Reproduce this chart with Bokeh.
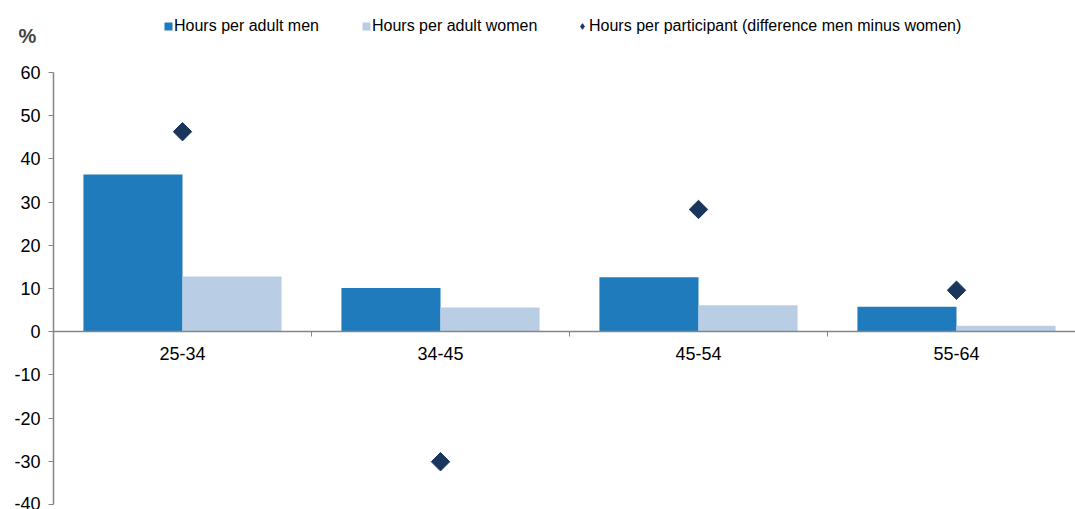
import math
from bokeh.plotting import figure
from bokeh.models import Range1d, FixedTicker, Legend, LegendItem, Label, ColumnDataSource
from bokeh.transform import dodge
from bokeh.embed import file_html
from bokeh.resources import INLINE

categories = ["25-34", "34-45", "45-54", "55-64"]
men = [36.4, 10.1, 12.6, 5.8]
women = [12.8, 5.6, 6.1, 1.4]
participant_diff = [46.3, -30.1, 28.3, 9.6]
y_ticks = [-40, -30, -20, -10, 0, 10, 20, 30, 40, 50, 60]

FONT = "Liberation Sans"
MEN_C = "#1F7BBB"
WOMEN_C = "#B9CDE5"
DIA_C = "#1B365D"
AX_C = "#868686"

n = len(categories)
xc = [i + 0.5 for i in range(n)]
src = ColumnDataSource(dict(x=xc, men=men, women=women, diff=participant_diff, cat=categories))

GW = 258.0  # px per category
p = figure(width=1075, height=509, output_backend="svg", toolbar_location=None,
           x_range=Range1d(-53 / GW, 1022 / GW), y_range=Range1d(-40 - 5 / 4.32, 60 + 72 / 4.32),
           min_border_left=0, min_border_right=0, min_border_top=0, min_border_bottom=0)
p.outline_line_color = None
p.xgrid.visible = False
p.ygrid.visible = False
p.background_fill_color = "white"
p.border_fill_color = "white"

bw = 0.384
r_men = p.vbar(x=dodge("x", -bw / 2, range=p.x_range), top="men", bottom=0, width=bw,
               source=src, fill_color=MEN_C, line_color=None)
r_women = p.vbar(x=dodge("x", bw / 2, range=p.x_range), top="women", bottom=0, width=bw,
                 source=src, fill_color=WOMEN_C, line_color=None)
# diamond-shaped copy (hidden beneath the rotated squares) used for the legend swatch
r_dia_leg = p.scatter(x="x", y="diff", source=src, marker="diamond", size=6,
                      fill_color=DIA_C, line_color=DIA_C)
r_dia = p.scatter(x="x", y="diff", source=src, marker="square", angle=math.pi / 4, size=13,
                  fill_color=DIA_C, line_color=DIA_C)

# y axis at x = 0
ya = p.yaxis[0]
ya.fixed_location = 0
ya.bounds = (-40, 60)
ya.ticker = FixedTicker(ticks=y_ticks)
ya.major_label_overrides = {t: str(t) for t in y_ticks}
ya.axis_line_color = AX_C
ya.axis_line_width = 1.5
ya.major_tick_line_color = AX_C
ya.major_tick_out = 5
ya.major_tick_in = 0
ya.minor_tick_line_color = None
ya.major_label_text_font = FONT
ya.major_label_text_font_size = "18px"
ya.major_label_text_color = "black"
ya.major_label_standoff = 8

# x axis at y = 0
xa = p.xaxis[0]
xa.fixed_location = 0
xa.bounds = (0, 1022 / GW)
xa.ticker = FixedTicker(ticks=xc, minor_ticks=[1, 2, 3])
xa.major_label_overrides = {x: c for x, c in zip(xc, categories)}
xa.axis_line_color = AX_C
xa.axis_line_width = 1.5
xa.major_tick_line_color = None
xa.major_tick_out = 0
xa.major_tick_in = 0
xa.minor_tick_line_color = AX_C
xa.minor_tick_out = 5
xa.minor_tick_in = 0
xa.major_label_text_font = FONT
xa.major_label_text_font_size = "18px"
xa.major_label_text_color = "black"
xa.major_label_standoff = 10

common = dict(orientation="horizontal", label_text_font=FONT, label_text_font_size="16px",
              label_text_color="black", padding=0, margin=0, border_line_color=None,
              background_fill_alpha=0, label_height=16)
legend1 = Legend(items=[
    LegendItem(label="Hours per adult men", renderers=[r_men]),
    LegendItem(label="Hours per adult women", renderers=[r_women]),
], location=(163, 504 - 30), glyph_width=10, glyph_height=10, label_standoff=1, spacing=42,
    **common)
legend2 = Legend(items=[
    LegendItem(label="Hours per participant (difference men minus women)", renderers=[r_dia_leg]),
], location=(575, 504 - 30), glyph_width=14, glyph_height=16, label_standoff=0, **common)
p.add_layout(legend1)
p.add_layout(legend2)

p.add_layout(Label(x=-26 / GW, y=60 + 37 / 4.32, text="%", text_font=FONT, text_font_size="20px",
                   text_font_style="bold", text_align="center", text_baseline="middle"))

open("out.html", "w").write(file_html(p, INLINE))
